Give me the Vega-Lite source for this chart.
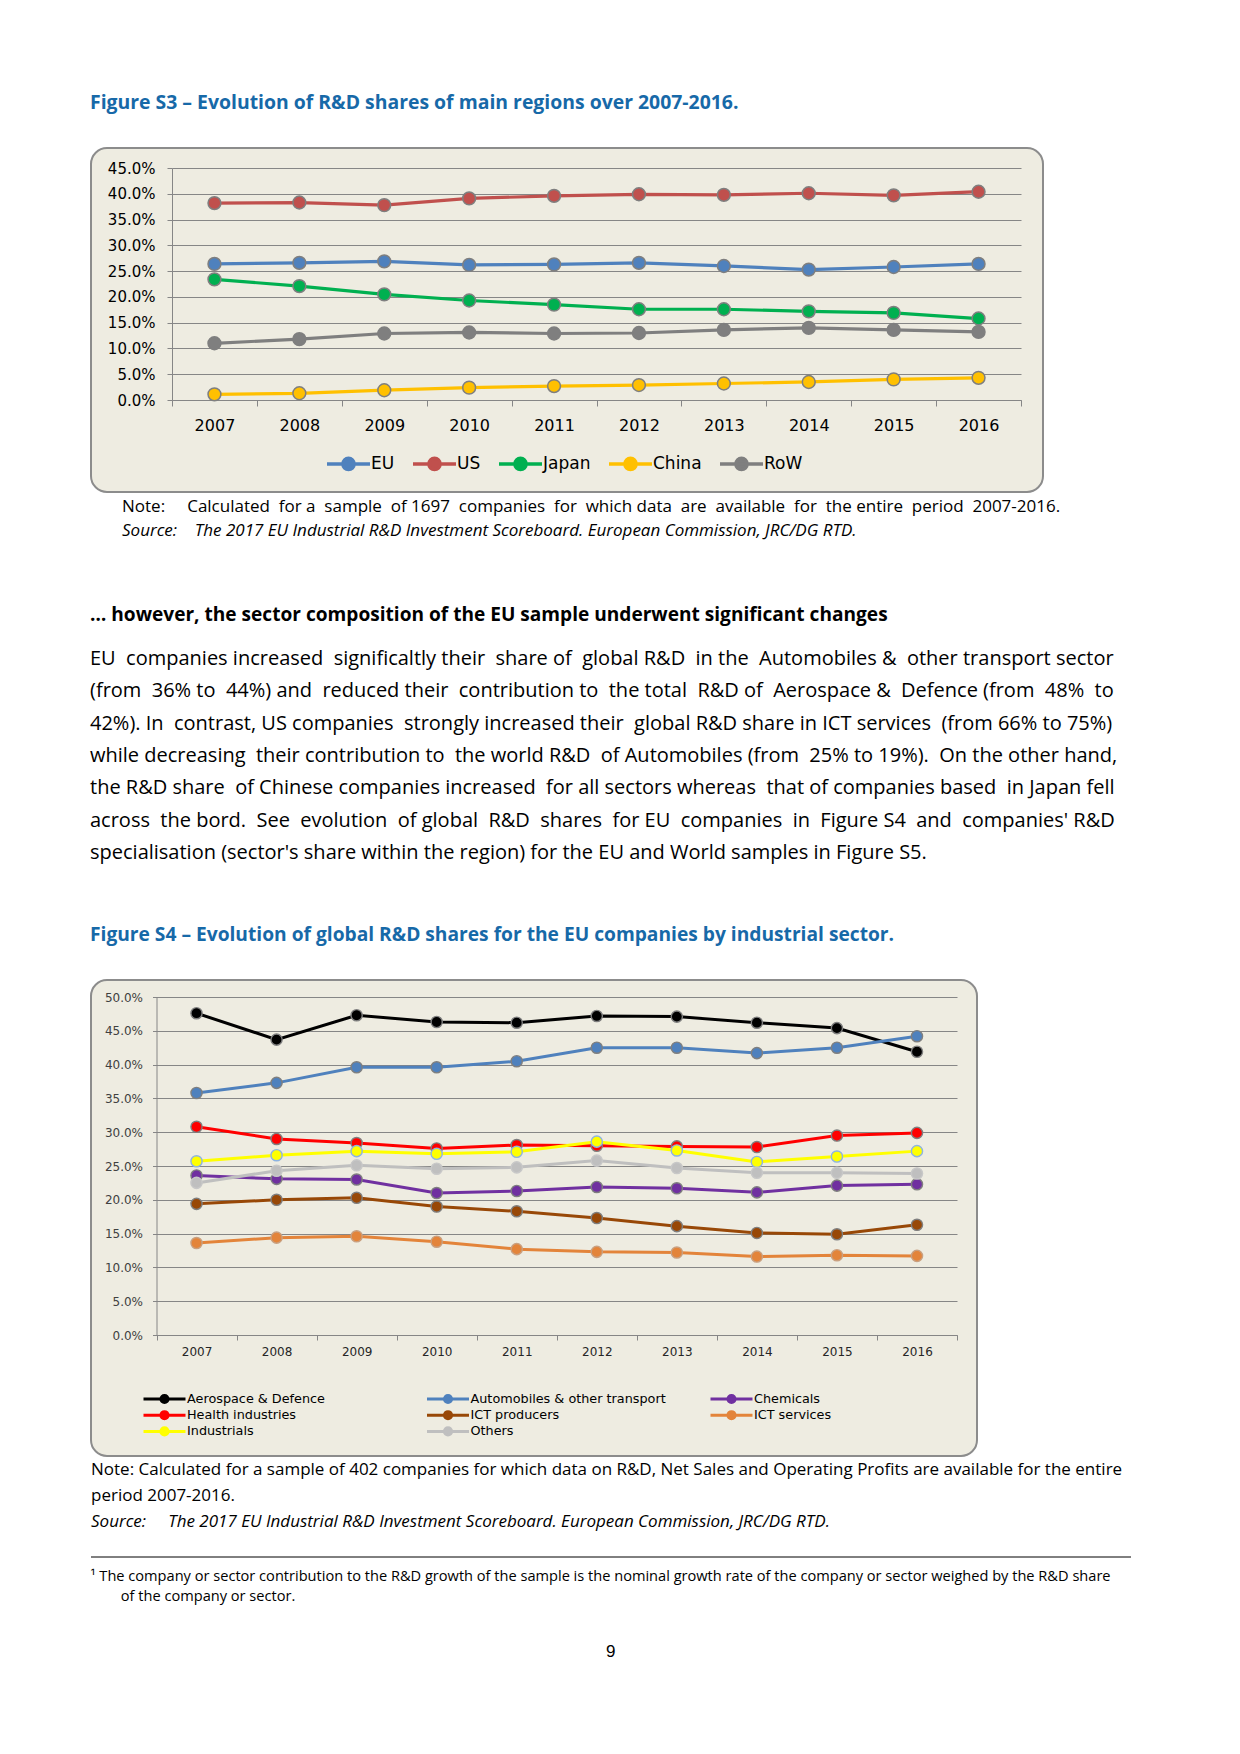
{
  "$schema": "https://vega.github.io/schema/vega-lite/v6.json",
  "background": "white",
  "padding": {"left": 90, "top": 92, "right": 0, "bottom": 0},
  "config": {
    "font": "Open Sans",
    "view": {"fill": "#EEECE1", "stroke": "#8C8C8C", "strokeWidth": 2, "cornerRadius": 16},
    "title": {"anchor": "start", "font": "Open Sans", "color": "#000000", "subtitleFont": "Open Sans", "subtitleColor": "#000000"},
    "axis": {"labelFont": "DejaVu Sans", "labelColor": "#000000", "domainColor": "#868686", "tickColor": "#868686", "gridColor": "#868686", "gridOpacity": 1, "domainWidth": 1, "tickWidth": 1, "gridWidth": 1, "title": null, "labelFlush": false, "labelOverlap": false, "labelBound": false},
    "legend": {"labelFont": "DejaVu Sans", "labelColor": "#000000", "title": null}
  },
  "title": {"text": "9", "orient": "bottom", "anchor": "middle", "font": "Liberation Sans", "fontSize": 17, "fontWeight": "normal", "color": "#000000", "offset": 40},
  "spacing": 25,
  "resolve": {"scale": {"color": "independent", "stroke": "independent"}, "legend": {"color": "independent"}},
  "vconcat": [
    {
      "spacing": 65,
      "resolve": {"scale": {"color": "independent", "stroke": "independent"}, "legend": {"color": "independent"}},
      "vconcat": [
        {
          "title": {"text": "Figure S3 – Evolution of R&D shares of main regions over 2007-2016.", "fontSize": 19.4, "fontWeight": "bold", "color": "#1769A8", "offset": 34},
          "vconcat": [
            {
              "width": 952,
              "height": 344,
              "title": {
                "text": "Note:\u00a0\u00a0\u00a0\u00a0 Calculated\u00a0 for a\u00a0 sample\u00a0 of 1697\u00a0 companies\u00a0 for\u00a0 which data\u00a0 are\u00a0 available\u00a0 for\u00a0 the entire\u00a0 period\u00a0 2007-2016.",
                "subtitle": "Source:\u00a0\u00a0\u00a0 The 2017 EU Industrial R&D Investment Scoreboard. European Commission, JRC/DG RTD.",
                "orient": "bottom", "anchor": "start", "dx": 31, "offset": 7,
                "fontSize": 17, "fontWeight": "normal", "subtitleFontSize": 17, "subtitleFontStyle": "italic", "subtitlePadding": 7
              },
              "data": {"values": [
                {"region": "EU", "year": 2007, "share": 26.4}, {"region": "EU", "year": 2008, "share": 26.6}, {"region": "EU", "year": 2009, "share": 26.9}, {"region": "EU", "year": 2010, "share": 26.2}, {"region": "EU", "year": 2011, "share": 26.3}, {"region": "EU", "year": 2012, "share": 26.6}, {"region": "EU", "year": 2013, "share": 26.0}, {"region": "EU", "year": 2014, "share": 25.3}, {"region": "EU", "year": 2015, "share": 25.8}, {"region": "EU", "year": 2016, "share": 26.4},
                {"region": "US", "year": 2007, "share": 38.2}, {"region": "US", "year": 2008, "share": 38.3}, {"region": "US", "year": 2009, "share": 37.8}, {"region": "US", "year": 2010, "share": 39.1}, {"region": "US", "year": 2011, "share": 39.6}, {"region": "US", "year": 2012, "share": 39.9}, {"region": "US", "year": 2013, "share": 39.8}, {"region": "US", "year": 2014, "share": 40.1}, {"region": "US", "year": 2015, "share": 39.7}, {"region": "US", "year": 2016, "share": 40.4},
                {"region": "Japan", "year": 2007, "share": 23.4}, {"region": "Japan", "year": 2008, "share": 22.1}, {"region": "Japan", "year": 2009, "share": 20.5}, {"region": "Japan", "year": 2010, "share": 19.3}, {"region": "Japan", "year": 2011, "share": 18.5}, {"region": "Japan", "year": 2012, "share": 17.6}, {"region": "Japan", "year": 2013, "share": 17.6}, {"region": "Japan", "year": 2014, "share": 17.2}, {"region": "Japan", "year": 2015, "share": 16.9}, {"region": "Japan", "year": 2016, "share": 15.8},
                {"region": "China", "year": 2007, "share": 1.1}, {"region": "China", "year": 2008, "share": 1.3}, {"region": "China", "year": 2009, "share": 1.9}, {"region": "China", "year": 2010, "share": 2.4}, {"region": "China", "year": 2011, "share": 2.7}, {"region": "China", "year": 2012, "share": 2.9}, {"region": "China", "year": 2013, "share": 3.2}, {"region": "China", "year": 2014, "share": 3.5}, {"region": "China", "year": 2015, "share": 4.0}, {"region": "China", "year": 2016, "share": 4.3},
                {"region": "RoW", "year": 2007, "share": 11.0}, {"region": "RoW", "year": 2008, "share": 11.8}, {"region": "RoW", "year": 2009, "share": 12.9}, {"region": "RoW", "year": 2010, "share": 13.1}, {"region": "RoW", "year": 2011, "share": 12.9}, {"region": "RoW", "year": 2012, "share": 13.0}, {"region": "RoW", "year": 2013, "share": 13.6}, {"region": "RoW", "year": 2014, "share": 14.0}, {"region": "RoW", "year": 2015, "share": 13.6}, {"region": "RoW", "year": 2016, "share": 13.2}
              ]},
              "mark": {"type": "line", "strokeWidth": 3.2, "point": {"filled": true, "size": 165, "stroke": "#7F7F7F", "strokeWidth": 1.5, "opacity": 1}},
              "encoding": {
                "x": {"field": "year", "type": "quantitative",
                  "scale": {"domain": [2006.5, 2016.5], "range": [81, 930], "nice": false, "zero": false},
                  "axis": {"values": [2006.5, 2007.5, 2008.5, 2009.5, 2010.5, 2011.5, 2012.5, 2013.5, 2014.5, 2015.5, 2016.5],
                    "labelExpr": "datum.value > 2016 ? '' : format(datum.value + 0.5, 'd')", "labelOffset": 42.45,
                    "offset": -92, "grid": false, "tickSize": 6, "labelFontSize": 16, "labelPadding": 11}},
                "y": {"field": "share", "type": "quantitative",
                  "scale": {"domain": [0, 45], "range": [252, 20], "nice": false},
                  "axis": {"values": [0, 5, 10, 15, 20, 25, 30, 35, 40, 45], "labelExpr": "format(datum.value, '.1f') + '%'",
                    "offset": -81, "grid": true, "tickSize": 5, "labelFontSize": 15, "labelPadding": 12}},
                "color": {"field": "region", "type": "nominal",
                  "scale": {"domain": ["EU", "US", "Japan", "China", "RoW"], "range": ["#4F81BD", "#C0504D", "#00B050", "#FFC000", "#7F7F7F"]},
                  "legend": {"orient": "none", "legendX": 234, "legendY": 292, "direction": "horizontal",
                    "symbolType": "M-1,0H1M0.26,0A0.26,0.26,0,1,1,-0.26,0A0.26,0.26,0,1,1,0.26,0Z",
                    "symbolSize": 1849, "symbolStrokeWidth": 3.5, "labelFontSize": 17, "labelOffset": -1, "columnPadding": 11,
                    "encode": {"symbols": {"update": {"fill": {"scale": "color", "field": "value"}, "stroke": {"scale": "color", "field": "value"}}}}}}
              }
            }
          ]
        },
        {
          "title": {
            "text": "… however, the sector composition of the EU sample underwent significant changes",
            "subtitle": [
              "EU \u00a0companies increased \u00a0significaltly their \u00a0share of \u00a0global R&D \u00a0in the \u00a0Automobiles & \u00a0other transport sector",
              "(from \u00a036% to \u00a044%) and \u00a0reduced their \u00a0contribution to \u00a0the total \u00a0R&D of \u00a0Aerospace & \u00a0Defence (from \u00a048% \u00a0to",
              "42%). In \u00a0contrast, US companies \u00a0strongly increased their \u00a0global R&D share in ICT services \u00a0(from 66% to 75%)",
              "while decreasing \u00a0their contribution to \u00a0the world R&D \u00a0of Automobiles (from \u00a025% to 19%). \u00a0On the other hand,",
              "the R&D share \u00a0of Chinese companies increased \u00a0for all sectors whereas \u00a0that of companies based \u00a0in Japan fell",
              "across \u00a0the bord. \u00a0See \u00a0evolution \u00a0of global \u00a0R&D \u00a0shares \u00a0for EU \u00a0companies \u00a0in \u00a0Figure S4 \u00a0and \u00a0companies' R&D",
              "specialisation (sector's share within the region) for the EU and World samples in Figure S5."
            ],
            "fontSize": 19.1, "fontWeight": "bold", "subtitleFontSize": 20, "subtitleLineHeight": 32.3, "subtitlePadding": 24, "offset": 63
          },
          "vconcat": [
            {
              "title": {"text": "Figure S4 – Evolution of global R&D shares for the EU companies by industrial sector.", "fontSize": 19.2, "fontWeight": "bold", "color": "#1769A8", "offset": 34},
              "vconcat": [
                {
                  "width": 886,
                  "height": 476,
                  "title": {
                    "text": ["Note: Calculated for a sample of 402 companies for which data on R&D, Net Sales and Operating Profits are available for the entire", "period 2007-2016."],
                    "subtitle": "Source:\u00a0\u00a0\u00a0\u00a0 The 2017 EU Industrial R&D Investment Scoreboard. European Commission, JRC/DG RTD.",
                    "orient": "bottom", "anchor": "start", "offset": 6, "lineHeight": 26,
                    "fontSize": 17, "fontWeight": "normal", "subtitleFontSize": 17, "subtitleFontStyle": "italic", "subtitlePadding": 9
                  },
                  "data": {"values": [
                    {"sector": "Aerospace & Defence", "year": 2007, "share": 47.6}, {"sector": "Aerospace & Defence", "year": 2008, "share": 43.7}, {"sector": "Aerospace & Defence", "year": 2009, "share": 47.3}, {"sector": "Aerospace & Defence", "year": 2010, "share": 46.3}, {"sector": "Aerospace & Defence", "year": 2011, "share": 46.2}, {"sector": "Aerospace & Defence", "year": 2012, "share": 47.2}, {"sector": "Aerospace & Defence", "year": 2013, "share": 47.1}, {"sector": "Aerospace & Defence", "year": 2014, "share": 46.2}, {"sector": "Aerospace & Defence", "year": 2015, "share": 45.4}, {"sector": "Aerospace & Defence", "year": 2016, "share": 41.9},
                    {"sector": "Automobiles & other transport", "year": 2007, "share": 35.8}, {"sector": "Automobiles & other transport", "year": 2008, "share": 37.3}, {"sector": "Automobiles & other transport", "year": 2009, "share": 39.6}, {"sector": "Automobiles & other transport", "year": 2010, "share": 39.6}, {"sector": "Automobiles & other transport", "year": 2011, "share": 40.5}, {"sector": "Automobiles & other transport", "year": 2012, "share": 42.5}, {"sector": "Automobiles & other transport", "year": 2013, "share": 42.5}, {"sector": "Automobiles & other transport", "year": 2014, "share": 41.7}, {"sector": "Automobiles & other transport", "year": 2015, "share": 42.5}, {"sector": "Automobiles & other transport", "year": 2016, "share": 44.2},
                    {"sector": "Chemicals", "year": 2007, "share": 23.6}, {"sector": "Chemicals", "year": 2008, "share": 23.1}, {"sector": "Chemicals", "year": 2009, "share": 23.0}, {"sector": "Chemicals", "year": 2010, "share": 21.0}, {"sector": "Chemicals", "year": 2011, "share": 21.3}, {"sector": "Chemicals", "year": 2012, "share": 21.9}, {"sector": "Chemicals", "year": 2013, "share": 21.7}, {"sector": "Chemicals", "year": 2014, "share": 21.1}, {"sector": "Chemicals", "year": 2015, "share": 22.1}, {"sector": "Chemicals", "year": 2016, "share": 22.3},
                    {"sector": "Health industries", "year": 2007, "share": 30.8}, {"sector": "Health industries", "year": 2008, "share": 29.0}, {"sector": "Health industries", "year": 2009, "share": 28.4}, {"sector": "Health industries", "year": 2010, "share": 27.6}, {"sector": "Health industries", "year": 2011, "share": 28.1}, {"sector": "Health industries", "year": 2012, "share": 28.0}, {"sector": "Health industries", "year": 2013, "share": 27.9}, {"sector": "Health industries", "year": 2014, "share": 27.8}, {"sector": "Health industries", "year": 2015, "share": 29.5}, {"sector": "Health industries", "year": 2016, "share": 29.9},
                    {"sector": "ICT producers", "year": 2007, "share": 19.4}, {"sector": "ICT producers", "year": 2008, "share": 20.0}, {"sector": "ICT producers", "year": 2009, "share": 20.3}, {"sector": "ICT producers", "year": 2010, "share": 19.0}, {"sector": "ICT producers", "year": 2011, "share": 18.3}, {"sector": "ICT producers", "year": 2012, "share": 17.3}, {"sector": "ICT producers", "year": 2013, "share": 16.1}, {"sector": "ICT producers", "year": 2014, "share": 15.1}, {"sector": "ICT producers", "year": 2015, "share": 14.9}, {"sector": "ICT producers", "year": 2016, "share": 16.3},
                    {"sector": "ICT services", "year": 2007, "share": 13.6}, {"sector": "ICT services", "year": 2008, "share": 14.4}, {"sector": "ICT services", "year": 2009, "share": 14.6}, {"sector": "ICT services", "year": 2010, "share": 13.8}, {"sector": "ICT services", "year": 2011, "share": 12.7}, {"sector": "ICT services", "year": 2012, "share": 12.3}, {"sector": "ICT services", "year": 2013, "share": 12.2}, {"sector": "ICT services", "year": 2014, "share": 11.6}, {"sector": "ICT services", "year": 2015, "share": 11.8}, {"sector": "ICT services", "year": 2016, "share": 11.7},
                    {"sector": "Industrials", "year": 2007, "share": 25.7}, {"sector": "Industrials", "year": 2008, "share": 26.6}, {"sector": "Industrials", "year": 2009, "share": 27.2}, {"sector": "Industrials", "year": 2010, "share": 26.8}, {"sector": "Industrials", "year": 2011, "share": 27.1}, {"sector": "Industrials", "year": 2012, "share": 28.6}, {"sector": "Industrials", "year": 2013, "share": 27.3}, {"sector": "Industrials", "year": 2014, "share": 25.6}, {"sector": "Industrials", "year": 2015, "share": 26.4}, {"sector": "Industrials", "year": 2016, "share": 27.2},
                    {"sector": "Others", "year": 2007, "share": 22.5}, {"sector": "Others", "year": 2008, "share": 24.3}, {"sector": "Others", "year": 2009, "share": 25.1}, {"sector": "Others", "year": 2010, "share": 24.6}, {"sector": "Others", "year": 2011, "share": 24.8}, {"sector": "Others", "year": 2012, "share": 25.8}, {"sector": "Others", "year": 2013, "share": 24.7}, {"sector": "Others", "year": 2014, "share": 24.0}, {"sector": "Others", "year": 2015, "share": 24.0}, {"sector": "Others", "year": 2016, "share": 23.9}
                  ]},
                  "encoding": {
                    "x": {"field": "year", "type": "quantitative",
                      "scale": {"domain": [2006.5, 2016.5], "range": [65.5, 866], "nice": false, "zero": false},
                      "axis": {"values": [2006.5, 2007.5, 2008.5, 2009.5, 2010.5, 2011.5, 2012.5, 2013.5, 2014.5, 2015.5, 2016.5],
                        "labelExpr": "datum.value > 2016 ? '' : format(datum.value + 0.5, 'd')", "labelOffset": 40.05,
                        "offset": -121, "grid": false, "tickSize": 5, "labelFontSize": 12, "labelPadding": 6, "labelColor": "#262626"}},
                    "y": {"field": "share", "type": "quantitative",
                      "scale": {"domain": [0, 50], "range": [355, 17], "nice": false},
                      "axis": {"values": [0, 5, 10, 15, 20, 25, 30, 35, 40, 45, 50], "labelExpr": "format(datum.value, '.1f') + '%'",
                        "offset": -65.5, "grid": true, "tickSize": 4, "labelFontSize": 12, "labelPadding": 10, "labelColor": "#404040"}},
                    "color": {"field": "sector", "type": "nominal",
                      "scale": {"domain": ["Aerospace & Defence", "Automobiles & other transport", "Chemicals", "Health industries", "ICT producers", "ICT services", "Industrials", "Others"],
                        "range": ["#000000", "#4F81BD", "#7030A0", "#FF0000", "#984807", "#E3843A", "#FFFF00", "#BFBFBF"]},
                      "legend": {"orient": "none", "legendX": 51, "legendY": 411.5, "direction": "horizontal", "columns": 3, "gridAlign": "all",
                        "symbolType": "M-1,0H1M0.17,0A0.17,0.17,0,1,1,-0.17,0A0.17,0.17,0,1,1,0.17,0Z",
                        "symbolSize": 1764, "symbolStrokeWidth": 3, "labelFontSize": 12.8, "labelOffset": 0, "columnPadding": 42.5, "rowPadding": 1.2, "clipHeight": 15, "labelLimit": 400,
                        "encode": {"symbols": {"update": {"fill": {"scale": "color", "field": "value"}, "stroke": {"scale": "color", "field": "value"}}}}}}
                  },
                  "layer": [
                    {"mark": {"type": "line", "strokeWidth": 3}},
                    {"mark": {"type": "point", "filled": true, "size": 125, "strokeWidth": 1.4, "opacity": 1},
                      "encoding": {"stroke": {"field": "sector", "type": "nominal", "legend": null,
                        "scale": {"domain": ["Aerospace & Defence", "Automobiles & other transport", "Chemicals", "Health industries", "ICT producers", "ICT services", "Industrials", "Others"],
                          "range": ["#7F7F7F", "#7F7F7F", "#7F7F7F", "#7F7F7F", "#7F7F7F", "#C9A080", "#8DB3E2", "#C8C8C8"]}}}}
                  ]
                }
              ]
            }
          ]
        }
      ]
    },
    {
      "width": 1040,
      "height": 1,
      "view": {"fill": null, "stroke": null},
      "title": {
        "text": ["¹ The company or sector contribution to the R&D growth of the sample is the nominal growth rate of the company or sector weighed by the R&D share", "\u200b\u00a0\u00a0\u00a0\u00a0\u00a0\u00a0\u00a0\u00a0of the company or sector."],
        "orient": "bottom", "anchor": "start", "offset": 11, "lineHeight": 20, "fontSize": 14.6, "fontWeight": "normal"
      },
      "data": {"values": [{}]},
      "mark": {"type": "rule", "color": "#000000", "strokeWidth": 1},
      "encoding": {"y": {"datum": 1, "type": "quantitative", "scale": {"domain": [0, 1]}, "axis": null}}
    }
  ]
}
